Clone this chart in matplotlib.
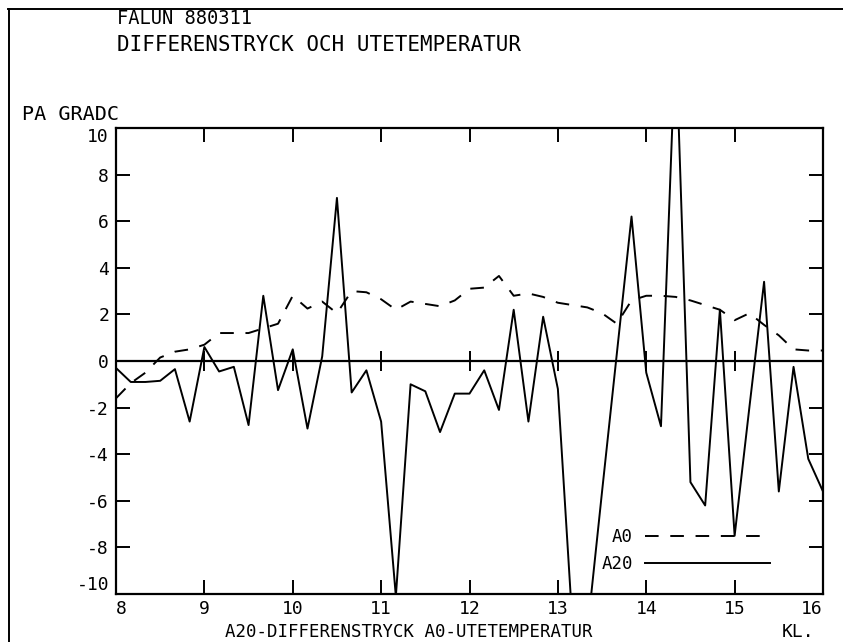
import matplotlib
matplotlib.use("Agg")
import matplotlib.pyplot as plt
from matplotlib.lines import Line2D

# clock times, 10 minute samples (hhmm)
clock = [800, 810, 820, 830, 840, 850,
         900, 910, 920, 930, 940, 950,
         1000, 1010, 1020, 1030, 1040, 1050,
         1100, 1110, 1120, 1130, 1140, 1150,
         1200, 1210, 1220, 1230, 1240, 1250,
         1300, 1310, 1320, 1330, 1340, 1350,
         1400, 1410, 1420, 1430, 1440, 1450,
         1500, 1510, 1520, 1530, 1540, 1550,
         1600]

# A20 - differenstryck (solid)
a20 = [-0.3, -0.9, -0.9, -0.85, -0.35, -2.6,
       0.6, -0.45, -0.25, -2.75, 2.8, -1.25,
       0.5, -2.9, 0.2, 7.0, -1.35, -0.4,
       -2.6, -10.1, -1.0, -1.3, -3.05, -1.4,
       -1.4, -0.4, -2.1, 2.2, -2.6, 1.9,
       -1.2, -11.4, -11.6, -5.6, 0.3, 6.2,
       -0.5, -2.8, 14.0, -5.2, -6.2, 2.2,
       -7.5, -2.0, 3.4, -5.6, -0.25, -4.2,
       -5.6]

# A0 - utetemperatur (dashed)
a0 = [-1.6, -0.95, -0.5, 0.15, 0.4, 0.5,
      0.7, 1.2, 1.2, 1.2, 1.4, 1.6,
      2.8, 2.25, 2.55, 2.05, 3.0, 2.95,
      2.65, 2.2, 2.55, 2.45, 2.35, 2.6,
      3.1, 3.15, 3.65, 2.8, 2.9, 2.75,
      2.5, 2.4, 2.3, 2.05, 1.6, 2.6,
      2.8, 2.8, 2.75, 2.6, 2.4, 2.2,
      1.75, 2.05, 1.55, 1.1, 0.5, 0.45,
      0.45]

xticks = [8, 9, 10, 11, 12, 13, 14, 15, 16]
yticks = [-10, -8, -6, -4, -2, 0, 2, 4, 6, 8, 10]

hours = [c // 100 + (c % 100) / 60 for c in clock]

plt.rcParams['font.family'] = ['DejaVu Sans Mono', 'DejaVu Sans']

W, H = 843, 642
fig = plt.figure(figsize=(W / 100, H / 100), dpi=100)
ax = fig.add_axes([116 / W, 1 - 594 / H, (823 - 116) / W, (594 - 128) / H])

ax.plot(hours, a0, color='black', lw=1.4, dashes=(7, 6), label='A0')
ax.plot(hours, a20, color='black', lw=1.4, label='A20')
ax.axhline(0, color='black', lw=1.6)
# small ticks across the zero line
ax.vlines(xticks[1:-1], -0.45, 0.45, color='black', lw=1.4)

ax.set_xlim(8, 16)
ax.set_ylim(-10, 10)
ax.set_xticks(xticks)
ax.set_yticks(yticks)
ax.set_xticklabels([str(v) for v in xticks])
ax.set_yticklabels([str(v) for v in yticks])
ax.tick_params(direction='in', length=10, width=1.4, labelsize=13,
               top=True, right=True, colors='black')
ax.tick_params(axis='y', pad=5)
ax.tick_params(axis='x', pad=4)
for s in ax.spines.values():
    s.set_linewidth(1.6)

# plotter pulls the end labels inwards
ylabs = ax.get_yticklabels()
ylabs[0].set_verticalalignment('bottom')
ylabs[-1].set_verticalalignment('top')
xlabs = ax.get_xticklabels()
xlabs[0].set_horizontalalignment('left')
xlabs[-1].set_horizontalalignment('right')

ax.legend(loc='lower right', bbox_to_anchor=(0.925, 0.045), frameon=False,
          markerfirst=False, handlelength=7.2, fontsize=12.5,
          labelspacing=0.5, borderpad=0, borderaxespad=0, handletextpad=0.7)

fig.text(117 / W, 1 - 18.5 / H, 'FALUN 880311', fontsize=13.5, va='center')
fig.text(117 / W, 1 - 45 / H, 'DIFFERENSTRYCK OCH UTETEMPERATUR', fontsize=15, va='center')
fig.text(22 / W, 1 - 115 / H, 'PA GRADC', fontsize=14.5, va='center')
fig.text(225 / W, 1 - 632 / H, 'A20-DIFFERENSTRYCK A0-UTETEMPERATUR', fontsize=12.5, va='center')
fig.text(782 / W, 1 - 632 / H, 'KL.', fontsize=13, va='center')

# outer frame of the plotter sheet
fig.add_artist(Line2D([8 / W, 1], [1 - 9 / H, 1 - 9 / H], color='black', lw=1.4))
fig.add_artist(Line2D([9 / W, 9 / W], [0, 1 - 9 / H], color='black', lw=1.4))

fig.savefig('out.png', dpi=100)
